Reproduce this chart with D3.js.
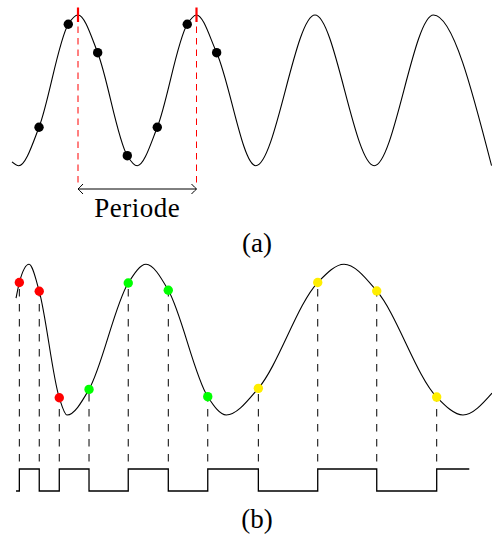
<!DOCTYPE html>
<html>
<head>
<meta charset="utf-8">
<script src="https://cdn.jsdelivr.net/npm/d3@7"></script>
<style>
  body { margin: 0; background: #fff; }
  svg { display: block; }
</style>
</head>
<body>
<div id="chart"></div>
<script>
// (a) time in periods, counted from the first trough
var waveAX = [-0.057, 0, 0.5, 1, 1.5, 2, 2.5, 3, 3.5, 3.99];
var waveAY = [-0.95, -1, 1, -1, 1, -1, 1, -1, 1, -1];
var samplesAX = [0.171, 0.418, 0.666, 0.916, 1.169, 1.422, 1.670];
var samplesAY = [-0.49, 0.877, 0.50, -0.867, -0.49, 0.877, 0.50];
var periodMarks = [0.5, 1.5];
var periodLabel = "Periode";

// (b) wave whose period grows, sampled at three rates
var waveBX = [-0.023, 0.087, 0.407, 1.074, 1.751, 2.745, 3.749, 3.994];
var waveBY = [0.55, 1, -1, 1, -1, 1, -1, -0.71];
var samplesBX = [0.005, 0.173, 0.342, 0.593, 0.924, 1.262, 1.595, 2.022, 2.523, 3.021, 3.527];
var samplesBY = [0.758, 0.642, -0.771, -0.660, 0.752, 0.656, -0.757, -0.646, 0.758, 0.646, -0.762];
var samplesBGroup = ["r", "r", "r", "g", "g", "g", "g", "y", "y", "y", "y"];

// square wave under (b): level before the first sample, then after each sample
var squareX = [-0.023, 0.005, 0.173, 0.342, 0.593, 0.924, 1.262, 1.595, 2.022, 2.523, 3.021, 3.527, 3.802];
var squareLevels = [0, 1, 0, 1, 0, 1, 0, 1, 0, 1, 0, 1, 1];

var captions = ["(a)", "(b)"];

var width = 492, height = 536;
var serif = "'Liberation Serif', 'Times New Roman', serif";
var groupColor = { r: "#ff0000", g: "#00ff00", y: "#ffee00" };

var svg = d3.select("#chart")
    .append("svg")
    .attr("width", width)
    .attr("height", height);

// shared time scale, one scale per panel for the amplitude
var x = d3.scaleLinear().domain([0, 4]).range([18.75, 492.75]);
var yA = d3.scaleLinear().domain([-1, 1]).range([165.7, 15]);
var yB = d3.scaleLinear().domain([-1, 1]).range([415, 264.3]);
var yS = d3.scaleLinear().domain([0, 1]).range([491, 469]);

// helper: merge extrema and samples into one sorted point list
function curvePoints(xs, ys, sx, sy) {
    var pts = xs.map((d, i) => [d, ys[i]]);
    sx.forEach((d, i) => pts.push([d, sy[i]]));
    return pts.sort((a, b) => a[0] - b[0]);
}

// ---------- (a) ----------
var lineA = d3.line()
    .x(d => x(d[0]))
    .y(d => yA(d[1]))
    .curve(d3.curveMonotoneX);

// red dashed period guides
svg.selectAll(".guide")
    .data(periodMarks)
    .enter()
    .append("line")
    .attr("x1", d => x(d))
    .attr("x2", d => x(d))
    .attr("y1", yA(1))
    .attr("y2", yA(-1) + 17.3)
    .attr("stroke", "#ff0000")
    .attr("stroke-width", 1)
    .attr("stroke-dasharray", "6.5,5");

svg.append("path")
    .datum(curvePoints(waveAX, waveAY, samplesAX, samplesAY))
    .attr("fill", "none")
    .attr("stroke", "#000")
    .attr("stroke-width", 1.1)
    .attr("d", lineA);

// red ticks on the peaks
svg.selectAll(".tick")
    .data(periodMarks)
    .enter()
    .append("line")
    .attr("x1", d => x(d))
    .attr("x2", d => x(d))
    .attr("y1", yA(1) - 7.5)
    .attr("y2", yA(1) + 7)
    .attr("stroke", "#ff0000")
    .attr("stroke-width", 2.2);

svg.selectAll(".dotA")
    .data(samplesAX)
    .enter()
    .append("circle")
    .attr("cx", d => x(d))
    .attr("cy", (d, i) => yA(samplesAY[i]))
    .attr("r", 4.7)
    .attr("fill", "#000");

// period arrow
var arrowY = yA(-1) + 23.3;
var x0 = x(periodMarks[0]), x1 = x(periodMarks[1]);
svg.append("line")
    .attr("x1", x0).attr("x2", x1)
    .attr("y1", arrowY).attr("y2", arrowY)
    .attr("stroke", "#000")
    .attr("stroke-width", 1);

[[x0, 1], [x1, -1]].forEach(function (a) {
    var tx = a[0], s = a[1];
    svg.append("path")
        .attr("d", "M" + (tx + s * 5) + "," + (arrowY - 5) +
            " Q" + (tx + s * 1.2) + "," + (arrowY - 1) + " " + tx + "," + arrowY +
            " Q" + (tx + s * 1.2) + "," + (arrowY + 1) + " " + (tx + s * 5) + "," + (arrowY + 5))
        .attr("fill", "none")
        .attr("stroke", "#000")
        .attr("stroke-width", 1);
});

svg.append("text")
    .attr("x", (x0 + x1) / 2)
    .attr("y", arrowY + 28)
    .attr("text-anchor", "middle")
    .style("font-family", serif)
    .style("font-size", "27px")
    .style("letter-spacing", "0.5px")
    .text(periodLabel);

// ---------- (b) ----------
var lineB = d3.line()
    .x(d => x(d[0]))
    .y(d => yB(d[1]))
    .curve(d3.curveMonotoneX);

// dashed drop lines, drawn from the bottom up
svg.selectAll(".drop")
    .data(samplesBX)
    .enter()
    .append("line")
    .attr("x1", d => x(d))
    .attr("x2", d => x(d))
    .attr("y1", yS(1) - 7.5)
    .attr("y2", (d, i) => yB(samplesBY[i]))
    .attr("stroke", "#000")
    .attr("stroke-width", 1)
    .attr("stroke-dasharray", "7.5,7.5");

svg.append("path")
    .datum(curvePoints(waveBX, waveBY, samplesBX, samplesBY))
    .attr("fill", "none")
    .attr("stroke", "#000")
    .attr("stroke-width", 1.1)
    .attr("d", lineB);

svg.selectAll(".dotB")
    .data(samplesBX)
    .enter()
    .append("circle")
    .attr("cx", d => x(d))
    .attr("cy", (d, i) => yB(samplesBY[i]))
    .attr("r", 4.7)
    .attr("fill", (d, i) => groupColor[samplesBGroup[i]]);

// square wave
var squareLine = d3.line()
    .x(d => x(d[0]))
    .y(d => yS(d[1]))
    .curve(d3.curveStepAfter);

svg.append("path")
    .datum(squareX.map((d, i) => [d, squareLevels[i]]))
    .attr("fill", "none")
    .attr("stroke", "#000")
    .attr("stroke-width", 1.3)
    .attr("d", squareLine);

// captions
svg.selectAll(".caption")
    .data(captions)
    .enter()
    .append("text")
    .attr("x", 257)
    .attr("y", (d, i) => i === 0 ? 252 : 528)
    .attr("text-anchor", "middle")
    .style("font-family", serif)
    .style("font-size", "27px")
    .text(d => d);
</script>
</body>
</html>
